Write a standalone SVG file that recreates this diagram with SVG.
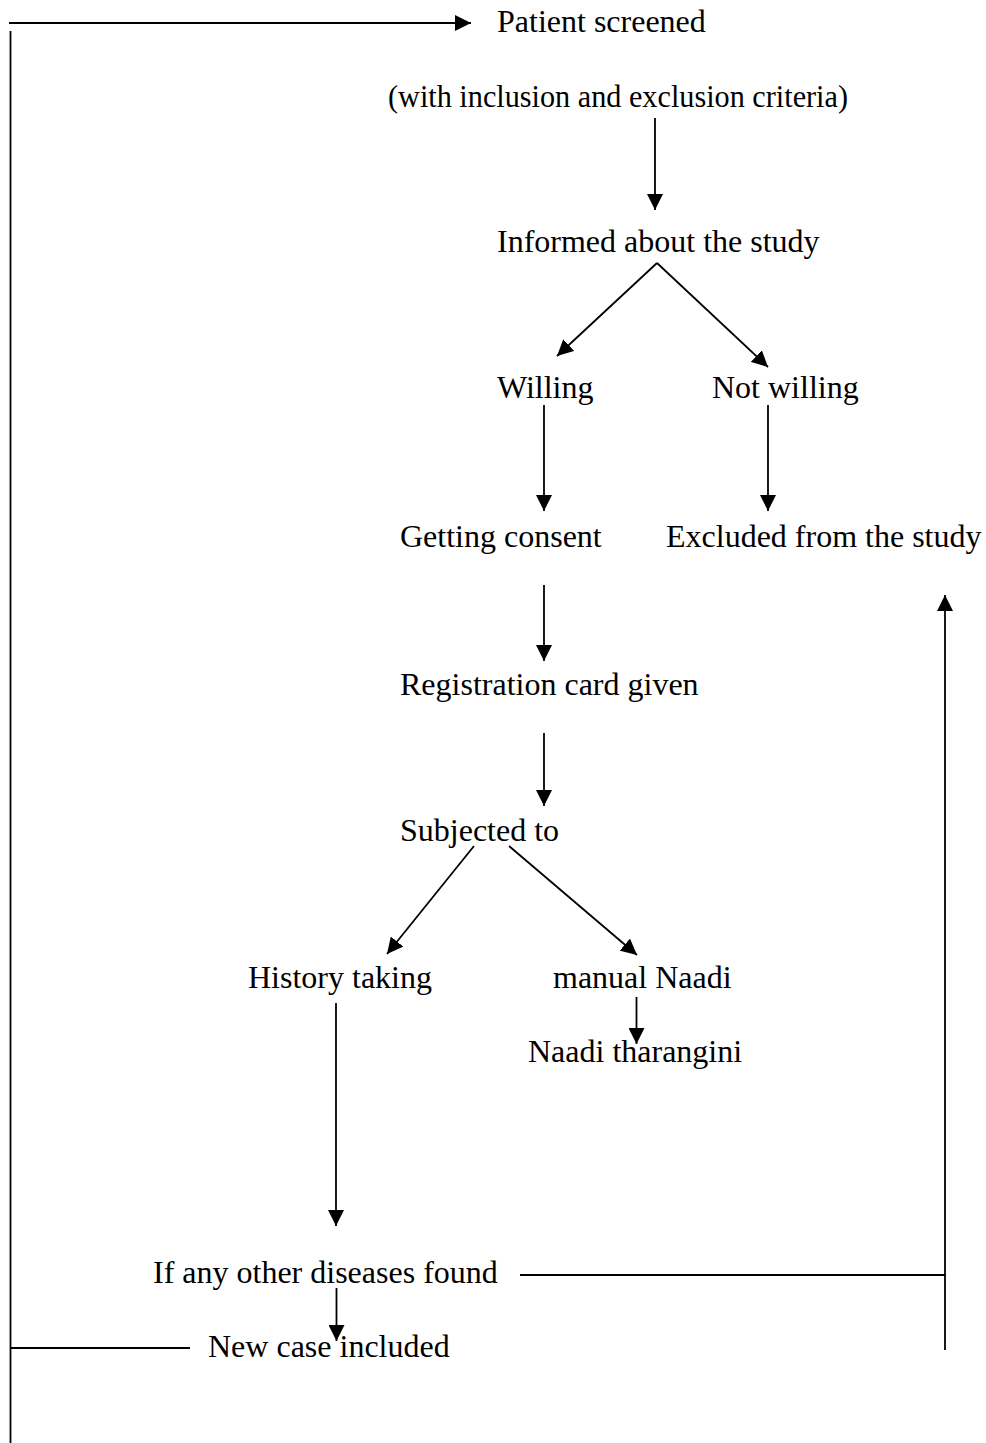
<svg xmlns="http://www.w3.org/2000/svg" width="986" height="1443" viewBox="0 0 986 1443">
<style>
text{font-family:"Liberation Serif","Times New Roman",serif;font-size:32px;fill:#000}
.c line{stroke:#000;stroke-width:1.8;fill:none}
.a{marker-end:url(#ah)}
</style>
<defs>
<marker id="ah" markerUnits="userSpaceOnUse" markerWidth="16" markerHeight="16" refX="16" refY="8" orient="auto" viewBox="0 0 16 16">
<path d="M0,0 L16,8 L0,16 z" fill="#000"/>
</marker>
</defs>
<rect width="986" height="1443" fill="#fff"/>
<g class="c" id="connectors">
<line class="a" x1="9" y1="23" x2="471" y2="23"/>
<line x1="10.5" y1="31" x2="10.5" y2="1443"/>
<line x1="10" y1="1348" x2="190" y2="1348"/>
<line class="a" x1="655" y1="118" x2="655" y2="210"/>
<line class="a" x1="657" y1="263" x2="557" y2="356"/>
<line class="a" x1="657" y1="263" x2="768" y2="367"/>
<line class="a" x1="544" y1="405" x2="544" y2="511"/>
<line class="a" x1="768" y1="405" x2="768" y2="511"/>
<line class="a" x1="544" y1="585" x2="544" y2="661"/>
<line class="a" x1="544" y1="733" x2="544" y2="806"/>
<line class="a" x1="474" y1="846" x2="387" y2="954"/>
<line class="a" x1="509" y1="846" x2="637" y2="955"/>
<line class="a" x1="636.5" y1="997" x2="636.5" y2="1044"/>
<line class="a" x1="336" y1="1003" x2="336" y2="1226"/>
<line class="a" x1="336.5" y1="1288" x2="336.5" y2="1341"/>
<line x1="520" y1="1275" x2="945" y2="1275"/>
<line class="a" x1="945" y1="1350" x2="945" y2="595"/>
</g>
<g id="n1"><text x="497" y="32">Patient screened</text></g>
<g id="n2"><text x="388" y="107" textLength="460" lengthAdjust="spacingAndGlyphs">(with inclusion and exclusion criteria)</text></g>
<g id="n3"><text x="497" y="252">Informed about the study</text></g>
<g id="n4"><text x="497" y="398">Willing</text></g>
<g id="n5"><text x="712" y="398">Not willing</text></g>
<g id="n6"><text x="400" y="547">Getting consent</text></g>
<g id="n7"><text x="666" y="547">Excluded from the study</text></g>
<g id="n8"><text x="400" y="695">Registration card given</text></g>
<g id="n9"><text x="400" y="841">Subjected to</text></g>
<g id="n10"><text x="248" y="988">History taking</text></g>
<g id="n11"><text x="553" y="988">manual Naadi</text></g>
<g id="n12"><text x="528" y="1062">Naadi tharangini</text></g>
<g id="n13"><text x="153" y="1283">If any other diseases found</text></g>
<g id="n14"><text x="208" y="1357">New case included</text></g>
</svg>
